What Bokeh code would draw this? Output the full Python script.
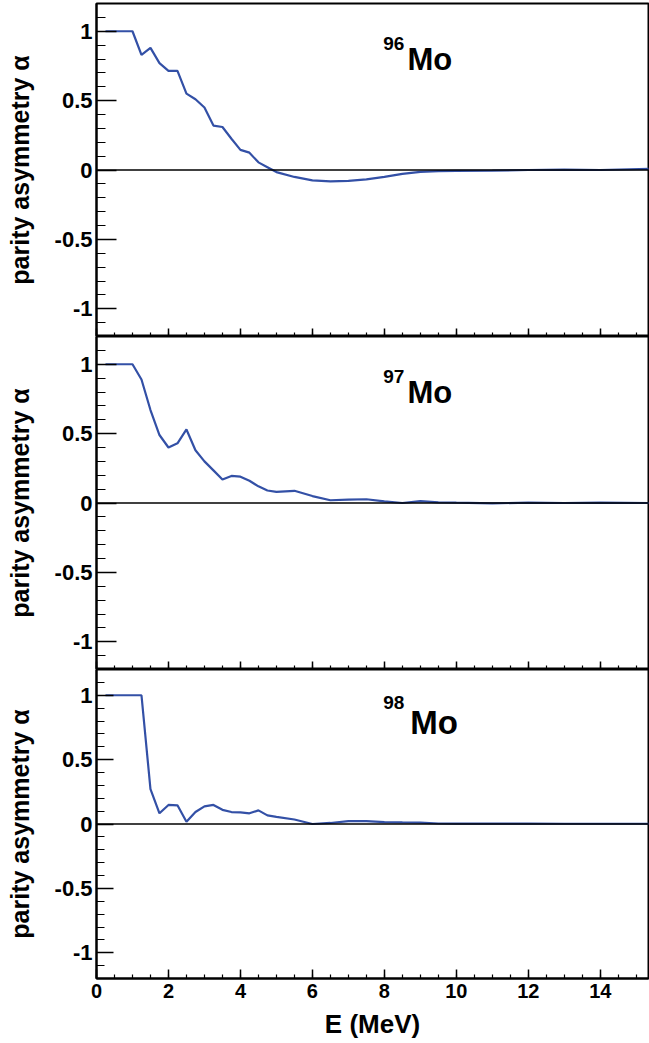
from bokeh.plotting import figure
from bokeh.layouts import column
from bokeh.models import FixedTicker, Span, Label, Range1d, CustomJSTickFormatter
from bokeh.embed import file_html
from bokeh.resources import INLINE

# Excitation energy grid (MeV) and parity asymmetry for each isotope
energy = [0.25, 0.5, 0.75, 1.0, 1.25, 1.5, 1.75, 2.0, 2.25, 2.5, 2.75, 3.0,
          3.25, 3.5, 3.75, 4.0, 4.25, 4.5, 4.75, 5.0, 5.5, 6.0, 6.5, 7.0,
          7.5, 8.0, 8.5, 9.0, 9.5, 10.0, 11.0, 12.0, 13.0, 14.0, 15.35]

alpha_mo96 = [1.0, 1.0, 1.0, 1.0, 0.83, 0.88, 0.77, 0.715, 0.715, 0.55, 0.51, 0.45,
              0.32, 0.31, 0.225, 0.145, 0.125, 0.055, 0.02, -0.015, -0.05, -0.075,
              -0.082, -0.078, -0.068, -0.05, -0.028, -0.014, -0.008, -0.006, -0.005,
              0.0, 0.002, 0.0, 0.008]

alpha_mo97 = [1.0, 1.0, 1.0, 1.0, 0.89, 0.67, 0.49, 0.40, 0.43, 0.53, 0.38, 0.30,
              0.235, 0.17, 0.195, 0.19, 0.16, 0.12, 0.09, 0.08, 0.088, 0.05, 0.02,
              0.025, 0.027, 0.012, 0.0, 0.014, 0.005, 0.002, -0.002, 0.002, 0.0,
              0.002, 0.0]

alpha_mo98 = [1.0, 1.0, 1.0, 1.0, 1.0, 0.27, 0.083, 0.148, 0.145, 0.018, 0.093, 0.137,
              0.148, 0.11, 0.093, 0.09, 0.083, 0.106, 0.067, 0.056, 0.035, 0.0, 0.008,
              0.022, 0.022, 0.014, 0.012, 0.011, 0.004, 0.003, 0.004, 0.003, 0.002,
              0.002, 0.002]

mass_numbers = ["96", "97", "98"]
series = [alpha_mo96, alpha_mo97, alpha_mo98]

x_major = [0, 2, 4, 6, 8, 10, 12, 14]
y_major = [-1, -0.5, 0, 0.5, 1]
y_labels = {-1: "-1", -0.5: "-0.5", 0: "0", 0.5: "0.5", 1: "1"}

FONT = "Liberation Sans"
LINE_COLOR = "#3350a6"

x_minor = [i * 0.5 for i in range(0, 31)]
y_minor = [round(-1.2 + i * 0.1, 2) for i in range(0, 25)]

heights = [336, 333, 374]
frame_heights = [333, 333, 309]


def make_panel(idx):
    last = idx == 2
    p = figure(width=649, height=heights[idx], output_backend="svg",
               toolbar_location=None, x_range=Range1d(0, 15.34),
               y_range=Range1d(-1.2, 1.2),
               min_border_left=96, min_border_right=1,
               min_border_top=3 if idx == 0 else 0,
               min_border_bottom=65 if last else 0)
    p.frame_height = frame_heights[idx]
    p.xgrid.visible = False
    p.ygrid.visible = False
    p.outline_line_color = "black"
    p.outline_line_width = 2
    p.background_fill_color = "white"
    p.border_fill_color = "white"

    # energy axis
    xa = p.xaxis[0]
    xa.ticker = FixedTicker(ticks=x_major, minor_ticks=x_minor)
    xa.major_tick_in = 9 if last else 8
    xa.major_tick_out = 0
    xa.minor_tick_in = 4
    xa.minor_tick_out = 0
    xa.axis_line_width = 2
    xa.axis_line_color = "black"
    xa.major_tick_line_color = "black"
    xa.minor_tick_line_color = "black"
    xa.major_tick_line_width = 1.5
    xa.minor_tick_line_width = 1.2
    if last:
        xa.axis_label = "E (MeV)"
        xa.axis_label_text_font = FONT
        xa.axis_label_text_font_style = "bold"
        xa.axis_label_text_font_size = "26px"
        xa.axis_label_text_color = "black"
        xa.axis_label_standoff = 8
        xa.major_label_text_font = FONT
        xa.major_label_text_font_style = "bold"
        xa.major_label_text_font_size = "20px"
        xa.major_label_text_color = "black"
        xa.major_label_standoff = 5
    else:
        # upper panels share the energy scale: ticks only, no numbers
        xa.formatter = CustomJSTickFormatter(code="return ''")
        xa.major_label_standoff = 0

    # asymmetry axis
    ya = p.yaxis[0]
    ya.ticker = FixedTicker(ticks=y_major, minor_ticks=y_minor)
    ya.major_label_overrides = y_labels
    ya.major_tick_in = 17 if last else 20
    ya.major_tick_out = 0
    ya.minor_tick_in = 8 if last else 9
    ya.minor_tick_out = 0
    ya.axis_line_width = 2
    ya.axis_line_color = "black"
    ya.major_tick_line_color = "black"
    ya.minor_tick_line_color = "black"
    ya.major_tick_line_width = 1.5
    ya.minor_tick_line_width = 1.2
    ya.major_label_text_font = FONT
    ya.major_label_text_font_style = "bold"
    ya.major_label_text_font_size = "22px"
    ya.major_label_text_color = "black"
    ya.major_label_standoff = 4
    ya.axis_label = "parity asymmetry \u03b1"
    ya.axis_label_text_font = FONT
    ya.axis_label_text_font_style = "bold"
    ya.axis_label_text_font_size = "25px"
    ya.axis_label_text_color = "black"
    ya.axis_label_standoff = 18

    p.add_layout(Span(location=0, dimension="width", line_color="black", line_width=1.3))
    p.line(energy, series[idx], line_color=LINE_COLOR, line_width=2.2)

    # isotope tag with superscript mass number
    scale = 129.0 if last else 138.75
    sup_y = 1.2 - (33 if last else 40) / scale
    base_y = 1.2 - (53 if last else 55.5) / scale
    p.add_layout(Label(x=7.97, y=sup_y, text=mass_numbers[idx], text_font=FONT,
                       text_font_style="bold", text_font_size="19px",
                       text_baseline="alphabetic", text_color="black"))
    p.add_layout(Label(x=8.72 if last else 8.64, y=base_y, text="Mo", text_font=FONT,
                       text_font_style="bold",
                       text_font_size="33px" if last else "31px",
                       text_baseline="alphabetic", text_color="black"))
    return p


panels = [make_panel(i) for i in range(3)]
layout = column(*panels, spacing=0)

open("out.html", "w").write(file_html(layout, INLINE))
